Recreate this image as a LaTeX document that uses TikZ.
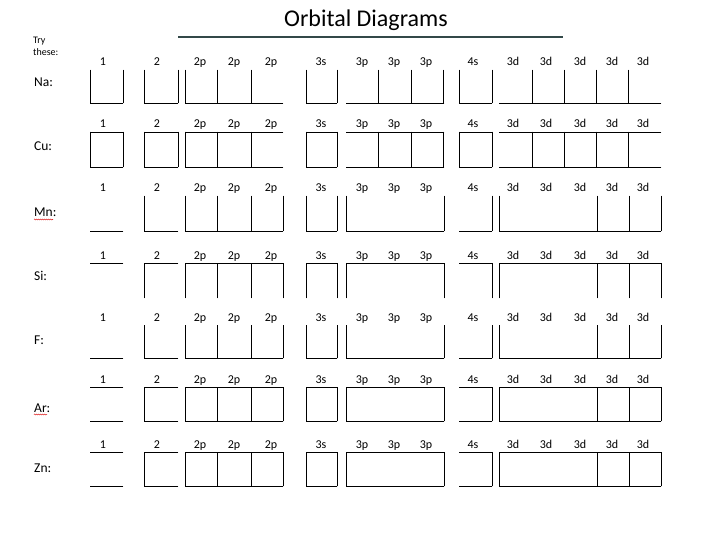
\documentclass[tikz,border=0pt]{standalone}
\usepackage{fontspec}
\setmainfont{Carlito}
\usetikzlibrary{decorations.pathmorphing}
\definecolor{rulegray}{RGB}{50,72,72}

\begin{document}
\begin{tikzpicture}
    [x=1pt,y=-1pt,
    cell/.style={draw=black,line width=0.9pt,line cap=rect},
    orbital/.style={anchor=base,inner sep=0pt,font=\fontsize{12}{14}\selectfont},
    element/.style={anchor=base west,inner sep=0pt,font=\fontsize{13.5}{16}\selectfont},
    hint/.style={anchor=base west,inner sep=0pt,font=\fontsize{10}{12}\selectfont},
    spelling/.style={draw=red!85!black,line width=0.5pt,decorate,
      decoration={snake,amplitude=0.5pt,segment length=2pt}}]

    \useasboundingbox (0,0) rectangle (720,540);

    \node (title) at (366,27) [anchor=base,inner sep=0pt,font=\fontsize{24}{28}\selectfont] {Orbital Diagrams};

    \draw [rulegray,line width=1.3pt] (178,37) -- (563,37);

    \node (try)   at (33,44) [hint] {Try};

    \node (these) at (33,56) [hint] {these:};

    \node (na) at (34,87)  [element] {Na:};

    \node (cu) at (34,151) [element] {Cu:};

    \node (mn) at (34,217) [element] {Mn:};

    \node (si) at (34,280) [element] {Si:};

    \node (f)  at (34,344) [element] {F:};

    \node (ar) at (34,412) [element] {Ar:};

    \node (zn) at (34,472) [element] {Zn:};

    \draw [spelling] ([yshift=-2.5pt]mn.base west) -- ++(19,0);
    \draw [spelling] ([yshift=-2.5pt]ar.base west) -- ++(13,0);

    \foreach \T in {70,132,196,263,325,387,452}
      \foreach \name/\cx [count=\i] in {1/103,2/157,2p/200,2p/234,2p/271,3s/321,
          3p/362,3p/394,3p/426,4s/473,3d/513,3d/546,3d/580,3d/612,3d/643}
        \node (lbl\T-\i) at (\cx,\T-4) [orbital] {\name};

    \foreach \y in {132,263,387,452,103,167,231,358,421,486}
      \foreach \a/\b in {90/123,144/178,185/283,306/337,346/444,459/492,499/661}
        \draw [cell] (\a,\y) -- (\b,\y);

    \foreach \T/\B in {70/103,132/167}
      \foreach \x in {90,123,144,178,185,217,251,306,337,378,411,443,459,492,532,564,596,628}
        \draw [cell] (\x,\T) -- (\x,\B);

    \foreach \T/\B in {196/231,263/298,325/358,387/421,452/486}
      \foreach \x in {144,185,217,251,283,306,337,346,444,492,499,597,629,661}
        \draw [cell] (\x,\T) -- (\x,\B);

\end{tikzpicture}
\end{document}
